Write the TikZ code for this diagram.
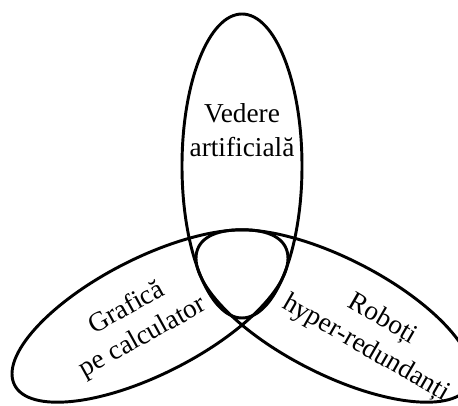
\documentclass[tikz,border=0pt]{standalone}
\usepackage{fontspec}
\setmainfont{Liberation Serif}
\usepackage{tikz}

\tikzset{
  multime/.style={line width=2.2pt},
  eticheta/.style={align=center,inner sep=0pt,font=\fontsize{20.5}{25}\selectfont}
}

\begin{document}
\begin{tikzpicture}[x=0.75pt,y=-0.75pt]
  % Cadru (in pixeli ai imaginii)
  \useasboundingbox (0,0) rectangle (458,406);
  \clip (0,0) rectangle (458,406);
  % Cele trei multimi
  \draw[multime] (242,166) ellipse [x radius=60, y radius=152];
  \draw[multime,rotate around={27:(150,316)}] (150,316) ellipse [x radius=152, y radius=58];
  \draw[multime,rotate around={-27:(334,316)}] (334,316) ellipse [x radius=152, y radius=58];
  % Etichete
  \node[eticheta] (vedere) at (242,130) {Vedere\\artificială};
  \node[eticheta,rotate=29] (grafica) at (135,323) {Grafică\\pe calculator};
  \node[eticheta,rotate=-30] (roboti) at (374,334) {Roboți\\hyper-redundanți};
\end{tikzpicture}
\end{document}
